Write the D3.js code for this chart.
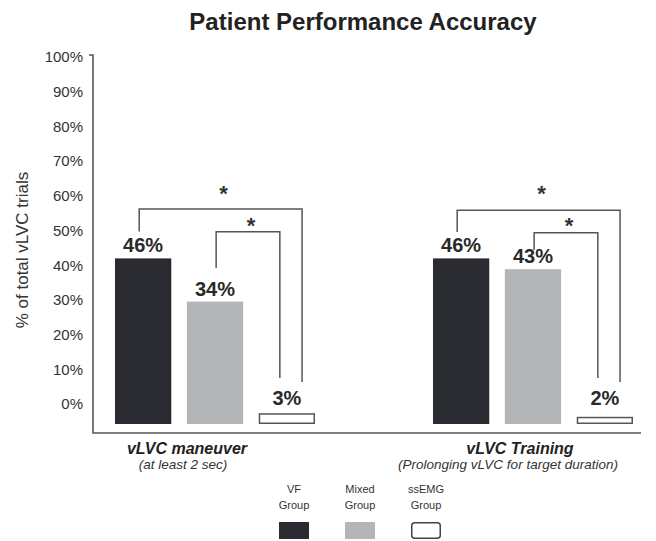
<!DOCTYPE html>
<html>
<head>
<meta charset="utf-8">
<script src="https://cdn.jsdelivr.net/npm/d3@7"></script>
<style>
  html, body { margin: 0; padding: 0; background: #fff; }
  svg { display: block; font-family: "Liberation Sans", Arial, Helvetica, sans-serif; }
</style>
</head>
<body>
<svg id="chart" width="656" height="541"></svg>
<script>
// ---------- data ----------
const categories = ["vLVC maneuver", "vLVC Training"];
const subtitles = ["(at least 2 sec)", "(Prolonging vLVC for target duration)"];
const series = ["VF Group", "Mixed Group", "ssEMG Group"];
const legendLines = [["VF", "Group"], ["Mixed", "Group"], ["ssEMG", "Group"]];
const vfValues = [46, 46];
const mixedValues = [34, 43];
const ssemgValues = [3, 2];
const tickValues = [0, 10, 20, 30, 40, 50, 60, 70, 80, 90, 100];
// significance brackets (levels in % units)
const sigCategory = ["vLVC maneuver", "vLVC maneuver", "vLVC Training", "vLVC Training"];
const sigFrom = ["VF Group", "Mixed Group", "VF Group", "Mixed Group"];
const sigTo = ["ssEMG Group", "ssEMG Group", "ssEMG Group", "ssEMG Group"];
const sigLevel = [59.7, 53.4, 59.4, 53.1];
const sigFromEnd = [53.5, 43.3, 53.3, 48.3];
const sigToEnd = [11.7, 12.8, 11.7, 12.8];
const sigStarLevel = [65.5, 56.7, 65.5, 56.7];

const values = { "VF Group": vfValues, "Mixed Group": mixedValues, "ssEMG Group": ssemgValues };
const colors = { "VF Group": "#2a2b30", "Mixed Group": "#b4b5b7", "ssEMG Group": "#ffffff" };

const svg = d3.select("#chart");

// ---------- scales ----------
const xGroup = d3.scaleBand().domain(categories).range([115, 633]).paddingInner(0.371).paddingOuter(0);
const xSeries = d3.scaleBand().domain(series).range([0, xGroup.bandwidth()]).paddingInner(0.217).paddingOuter(0);
const yBar = d3.scaleLinear().domain([0, 100]).range([424, 64]);
const yTick = d3.scaleLinear().domain([0, 100]).range([404, 57]);
const xCatTitle = d3.scalePoint().domain(categories).range([187, 520]);
const xCatSub = d3.scalePoint().domain(categories).range([183, 508]);
const xLegend = d3.scalePoint().domain(series).range([294, 426]);

// ---------- title ----------
svg.append("text")
  .attr("x", 363).attr("y", 30)
  .attr("text-anchor", "middle")
  .attr("font-size", 24).attr("font-weight", "bold")
  .attr("fill", "#222")
  .text("Patient Performance Accuracy");

// ---------- y axis title ----------
svg.append("text")
  .attr("transform", "translate(28,250) rotate(-90)")
  .attr("text-anchor", "middle")
  .attr("font-size", 17)
  .attr("fill", "#333")
  .text("% of total vLVC trials");

// ---------- y tick labels ----------
const yAxis = d3.axisLeft(yTick).tickValues(tickValues).tickFormat(d => d + "%").tickSize(0).tickPadding(0);
const gy = svg.append("g").attr("transform", "translate(83,0)").call(yAxis);
gy.select(".domain").remove();
gy.selectAll("text").attr("font-size", 15).attr("fill", "#333")
  .attr("font-family", "'Liberation Sans', Arial, sans-serif");

// ---------- axis lines ----------
const axisColor = "#555";
svg.append("path")
  .attr("d", d3.line()([[89, 55], [93, 55], [93, 433], [641, 433]]))
  .attr("fill", "none").attr("stroke", axisColor).attr("stroke-width", 1.6);

// ---------- bars ----------
const barData = [];
categories.forEach((c, ci) => series.forEach(s => barData.push({ cat: c, s: s, v: values[s][ci] })));
const barX = d => xGroup(d.cat) + xSeries(d.s);

svg.append("g").selectAll("rect").data(barData).join("rect")
  .attr("x", d => barX(d) + (d.s === "ssEMG Group" ? 0.75 : 0))
  .attr("y", d => yBar(d.v) + (d.s === "ssEMG Group" ? 0.75 : 0))
  .attr("width", d => xSeries.bandwidth() - (d.s === "ssEMG Group" ? 1.5 : 0))
  .attr("height", d => yBar(0) - yBar(d.v) - (d.s === "ssEMG Group" ? 1.5 : 0))
  .attr("fill", d => colors[d.s])
  .attr("stroke", d => d.s === "ssEMG Group" ? "#555" : "none")
  .attr("stroke-width", 1.5);

// ---------- value labels ----------
svg.append("g").selectAll("text").data(barData).join("text")
  .attr("x", d => barX(d) + xSeries.bandwidth() / 2)
  .attr("y", d => Math.min(yBar(d.v) - 6, 405))
  .attr("text-anchor", "middle")
  .attr("font-size", 20).attr("font-weight", "bold")
  .attr("fill", "#2a2a2a")
  .text(d => d.v + "%");

// ---------- significance brackets ----------
const sigData = sigCategory.map((c, i) => ({
  cat: c, from: sigFrom[i], to: sigTo[i], level: sigLevel[i],
  fromEnd: sigFromEnd[i], toEnd: sigToEnd[i], star: sigStarLevel[i],
  outer: sigFrom[i] === "VF Group"
}));
const bw = xSeries.bandwidth();
const legX = d => {
  const fx = xGroup(d.cat) + xSeries(d.from) + bw * (d.outer ? 0.43 : 0.52);
  const tx = xGroup(d.cat) + xSeries(d.to) + bw * (d.outer ? 0.77 : 0.375);
  return [fx, tx];
};
const gSig = svg.append("g");
gSig.selectAll("path").data(sigData).join("path")
  .attr("d", d => {
    const [fx, tx] = legX(d);
    return d3.line()([[fx, yBar(d.fromEnd)], [fx, yBar(d.level)], [tx, yBar(d.level)], [tx, yBar(d.toEnd)]]);
  })
  .attr("fill", "none").attr("stroke", "#555").attr("stroke-width", 1.5);
gSig.selectAll("text").data(sigData).join("text")
  .attr("x", d => { const [fx, tx] = legX(d); return (fx + tx) / 2 + 3; })
  .attr("y", d => yBar(d.star) + 13)
  .attr("text-anchor", "middle")
  .attr("font-size", 22).attr("font-weight", "bold")
  .attr("fill", "#333")
  .text("*");

// ---------- category labels ----------
svg.append("g").selectAll("text").data(categories).join("text")
  .attr("x", d => xCatTitle(d)).attr("y", 454)
  .attr("text-anchor", "middle")
  .attr("font-size", 16).attr("font-weight", "bold").attr("font-style", "italic")
  .attr("fill", "#222")
  .text(d => d);
svg.append("g").selectAll("text").data(categories).join("text")
  .attr("x", d => xCatSub(d)).attr("y", 469)
  .attr("text-anchor", "middle")
  .attr("font-size", 13.5).attr("font-style", "italic")
  .attr("fill", "#333")
  .text((d, i) => subtitles[i]);

// ---------- legend ----------
const gLeg = svg.append("g");
series.forEach((s, i) => {
  const cx = xLegend(s);
  legendLines[i].forEach((line, li) => {
    gLeg.append("text")
      .attr("x", cx).attr("y", 493 + li * 16)
      .attr("text-anchor", "middle")
      .attr("font-size", 11).attr("fill", "#333")
      .text(line);
  });
  const isWhite = s === "ssEMG Group";
  gLeg.append("rect")
    .attr("x", cx - 15 + (isWhite ? 0.75 : 0)).attr("y", 522 + (isWhite ? 0.75 : 0))
    .attr("width", 30 - (isWhite ? 1.5 : 0)).attr("height", 17 - (isWhite ? 1.5 : 0))
    .attr("rx", isWhite ? 3 : 0)
    .attr("fill", colors[s])
    .attr("stroke", isWhite ? "#444" : "none")
    .attr("stroke-width", 1.5);
});
</script>
</body>
</html>
